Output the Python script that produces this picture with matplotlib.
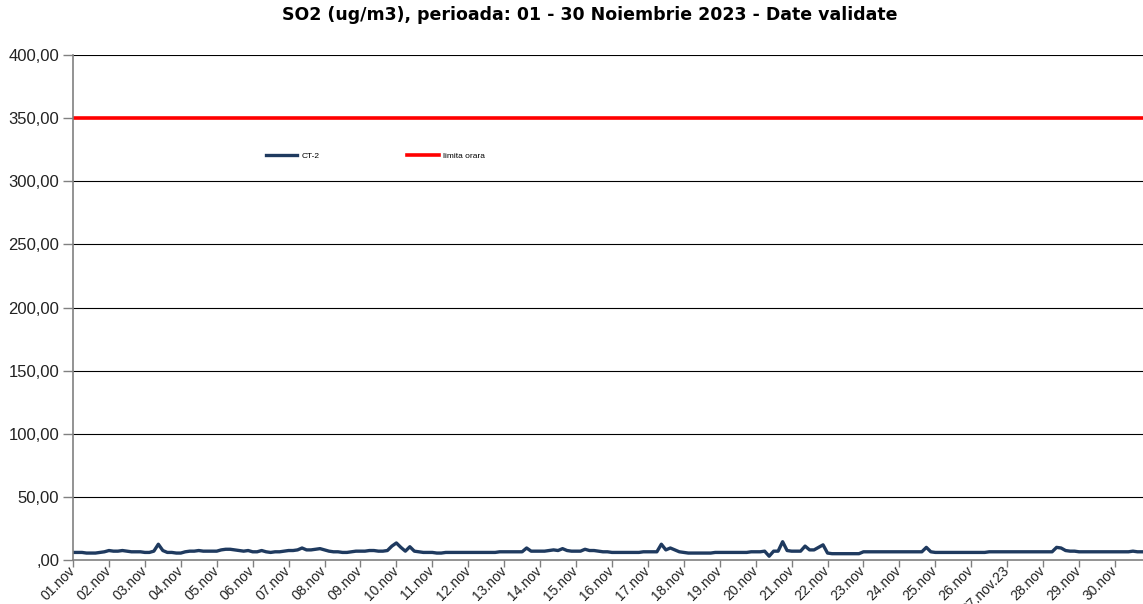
import matplotlib
matplotlib.use("Agg")
import matplotlib.pyplot as plt
import matplotlib.transforms as mtransforms
import numpy as np

# ---- data (3-hour resolution, 8 values per day) ----
ct2_day01 = [6, 6, 6, 5.5, 5.5, 5.5, 6, 6.5]
ct2_day02 = [7.5, 7, 7, 7.5, 7, 6.5, 6.5, 6.5]
ct2_day03 = [6, 6, 7, 12.5, 7.5, 6, 6, 5.5]
ct2_day04 = [5.5, 6.5, 7, 7, 7.5, 7, 7, 7]
ct2_day05 = [7, 8, 8.5, 8.5, 8, 7.5, 7, 7.5]
ct2_day06 = [6.5, 6.5, 7.5, 6.5, 6, 6.5, 6.5, 7]
ct2_day07 = [7.5, 7.5, 8, 9.5, 8, 8, 8.5, 9]
ct2_day08 = [8, 7, 6.5, 6.5, 6, 6, 6.5, 7]
ct2_day09 = [7, 7, 7.5, 7.5, 7, 7, 7.5, 11]
ct2_day10 = [13.5, 10, 7, 10.5, 7, 6.5, 6, 6]
ct2_day11 = [6, 5.5, 5.5, 6, 6, 6, 6, 6]
ct2_day12 = [6, 6, 6, 6, 6, 6, 6, 6.5]
ct2_day13 = [6.5, 6.5, 6.5, 6.5, 6.5, 9.5, 7, 7]
ct2_day14 = [7, 7, 7.5, 8, 7.5, 9, 7.5, 7]
ct2_day15 = [7, 7, 8.5, 7.5, 7.5, 7, 6.5, 6.5]
ct2_day16 = [6, 6, 6, 6, 6, 6, 6, 6.5]
ct2_day17 = [6.5, 6.5, 6.5, 12.5, 8, 9.5, 8, 6.5]
ct2_day18 = [6, 5.5, 5.5, 5.5, 5.5, 5.5, 5.5, 6]
ct2_day19 = [6, 6, 6, 6, 6, 6, 6, 6.5]
ct2_day20 = [6.5, 6.5, 7, 3, 7, 7, 14.5, 7.5]
ct2_day21 = [7, 7, 7, 11, 8, 8, 10, 12]
ct2_day22 = [5.5, 5, 5, 5, 5, 5, 5, 5]
ct2_day23 = [6.5, 6.5, 6.5, 6.5, 6.5, 6.5, 6.5, 6.5]
ct2_day24 = [6.5, 6.5, 6.5, 6.5, 6.5, 6.5, 10, 6.5]
ct2_day25 = [6, 6, 6, 6, 6, 6, 6, 6]
ct2_day26 = [6, 6, 6, 6, 6.5, 6.5, 6.5, 6.5]
ct2_day27 = [6.5, 6.5, 6.5, 6.5, 6.5, 6.5, 6.5, 6.5]
ct2_day28 = [6.5, 6.5, 6.5, 10, 9.5, 7.5, 7, 7]
ct2_day29 = [6.5, 6.5, 6.5, 6.5, 6.5, 6.5, 6.5, 6.5]
ct2_day30 = [6.5, 6.5, 6.5, 6.5, 7, 6.5, 6.5, 6.5]

limita_orara = 350

day_labels = ["01.nov", "02.nov", "03.nov", "04.nov", "05.nov", "06.nov", "07.nov",
              "08.nov", "09.nov", "10.nov", "11.nov", "12.nov", "13.nov", "14.nov",
              "15.nov", "16.nov", "17.nov", "18.nov", "19.nov", "20.nov", "21.nov",
              "22.nov", "23.nov", "24.nov", "25.nov", "26.nov", "27.nov.23", "28.nov",
              "29.nov", "30.nov"]
y_ticks = [0, 50, 100, 150, 200, 250, 300, 350, 400]
y_labels = [",00", "50,00", "100,00", "150,00", "200,00", "250,00", "300,00",
            "350,00", "400,00"]

title = "SO2 (ug/m3), perioada: 01 - 30 Noiembrie 2023 - Date validate"

ct2 = (ct2_day01 + ct2_day02 + ct2_day03 + ct2_day04 + ct2_day05 + ct2_day06 +
       ct2_day07 + ct2_day08 + ct2_day09 + ct2_day10 + ct2_day11 + ct2_day12 +
       ct2_day13 + ct2_day14 + ct2_day15 + ct2_day16 + ct2_day17 + ct2_day18 +
       ct2_day19 + ct2_day20 + ct2_day21 + ct2_day22 + ct2_day23 + ct2_day24 +
       ct2_day25 + ct2_day26 + ct2_day27 + ct2_day28 + ct2_day29 + ct2_day30)
x = np.arange(len(ct2)) / 8.0

W, H = 1143, 604
fig = plt.figure(figsize=(W / 100, H / 100), dpi=100)
plt.rcParams['font.family'] = ['Liberation Sans', 'DejaVu Sans']

left, right_px, top, bottom = 73, 1143, 55, 560
ax = fig.add_axes([left / W, (H - bottom) / H, (right_px - left) / W, (bottom - top) / H])

day_px = 35.93
xmax = (right_px - left) / day_px

ax.plot(x, ct2, color="#1F3A5F", lw=2.4, label="CT-2", solid_joinstyle="round")
ax.plot([0, 30], [limita_orara, limita_orara], color="#FF0000", lw=2.6, label="limita orara")

ax.set_xlim(0, xmax)
ax.set_ylim(0, 400)
ax.set_yticks(y_ticks)
ax.set_yticklabels(y_labels, fontsize=12, color="#222222")
ax.set_xticks(np.arange(len(day_labels)))
ax.set_xticklabels(day_labels, rotation=45, ha="right", va="center",
                   rotation_mode="anchor", fontsize=10, color="#222222")
offset = mtransforms.ScaledTranslation(5 / 100, 0, fig.dpi_scale_trans)
for lab in ax.get_xticklabels():
    lab.set_transform(lab.get_transform() + offset)

for yv in y_ticks[1:]:
    ax.axhline(yv, color="black", lw=0.8, zorder=0)

for s in ["top", "right"]:
    ax.spines[s].set_visible(False)
ax.spines["left"].set_color("#808080")
ax.spines["bottom"].set_color("#808080")
ax.spines["left"].set_linewidth(1.2)
ax.spines["bottom"].set_linewidth(1.2)
ax.tick_params(axis="y", length=7, color="#808080", width=1, pad=3)
ax.tick_params(axis="x", length=5, color="#808080", width=1, pad=1)

fig.text(590 / W, 1 - 15 / H, title, ha="center", va="center",
         fontsize=12.5, fontweight="bold", family="DejaVu Sans")

leg = ax.legend(loc="center left", bbox_to_anchor=(258 / W, 1 - 156 / H),
                bbox_transform=fig.transFigure, ncol=2, frameon=False,
                fontsize=6, handlelength=3.8, columnspacing=10.5, handletextpad=0.5)

fig.savefig("out.png", dpi=100)
